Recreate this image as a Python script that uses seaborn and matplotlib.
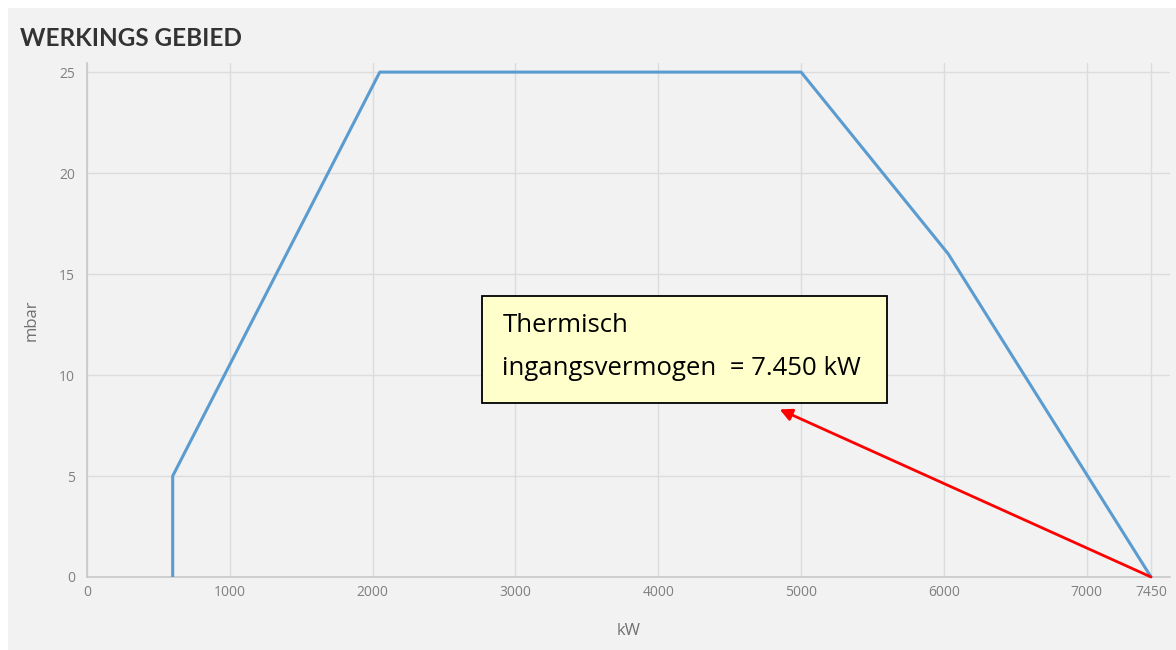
import matplotlib
matplotlib.use("Agg")
import matplotlib.pyplot as plt
import seaborn as sns
import pandas as pd
from matplotlib.patches import Rectangle

# werkingsgebied: vermogen (kW) tegen druk (mbar)
kw = [600, 600, 2050, 5000, 6030, 7450]
mbar = [0, 5, 25, 25, 16, 0]
x_ticks = [0, 1000, 2000, 3000, 4000, 5000, 6000, 7000, 7450]
y_ticks = [0, 5, 10, 15, 20, 25]

df = pd.DataFrame({"kW": kw, "mbar": mbar})

sns.set_theme(style="whitegrid")
plt.rcParams['font.family'] = ['Open Sans', 'DejaVu Sans']

fig = plt.figure(figsize=(11.76, 6.5), dpi=100, facecolor="white")
# grijze achtergrond
fig.patches.append(Rectangle((8 / 1176, 0), 1 - 8 / 1176, 642 / 650,
                             transform=fig.transFigure, facecolor="#f2f2f2",
                             edgecolor="none", zorder=-10))

ax = fig.add_axes([87 / 1176, 73 / 650, (1170 - 87) / 1176, (577 - 63) / 650])
ax.set_facecolor("none")

sns.lineplot(data=df, x="kW", y="mbar", sort=False, estimator=None,
             color="#5a9bd0", linewidth=2.2, ax=ax, zorder=3)

ax.set_xlim(0, 7583)
ax.set_ylim(0, 25.45)
ax.set_xticks(x_ticks)
ax.set_yticks(y_ticks)
ax.grid(True, color="#dcdcdc", linewidth=1)
for s in ["top", "right"]:
    ax.spines[s].set_visible(False)
for s in ["left", "bottom"]:
    ax.spines[s].set_color("#c8c8c8")
    ax.spines[s].set_linewidth(1.2)
ax.tick_params(axis="both", colors="#c8c8c8", labelcolor="#808080",
               labelsize=10, length=5, width=1)
ax.tick_params(axis="x", length=0, pad=6)
ax.set_xlabel("kW", color="#707070", fontsize=12, labelpad=16)
ax.set_ylabel("mbar", color="#707070", fontsize=12, labelpad=14)

fig.text(20 / 1176, 1 - 38 / 650, "WERKINGS GEBIED", fontsize=17.5,
         fontweight="bold", color="#333333", va="center", ha="left",
         family=["Lato", "DejaVu Sans"])

# tekstvak met pijl
ax.add_patch(Rectangle((2769, 8.61), 5601 - 2769, 13.91 - 8.61,
                       facecolor="#ffffcc", edgecolor="black", linewidth=1.3,
                       zorder=5, clip_on=False))
ax.text(2909, 12.45, "Thermisch", fontsize=18.5, color="black", va="center",
        ha="left", zorder=6, family=["Open Sans", "DejaVu Sans"])
ax.text(2909, 10.3, "ingangsvermogen  = 7.450 kW", fontsize=18.5,
        color="black", va="center", ha="left", zorder=6,
        family=["Open Sans", "DejaVu Sans"])
ax.annotate("", xy=(4850, 8.3), xytext=(7450, 0),
            arrowprops=dict(arrowstyle="-|>", color="red", lw=2,
                            mutation_scale=18, shrinkA=0, shrinkB=0),
            zorder=6)

fig.savefig("out.png", dpi=100, facecolor=fig.get_facecolor())
